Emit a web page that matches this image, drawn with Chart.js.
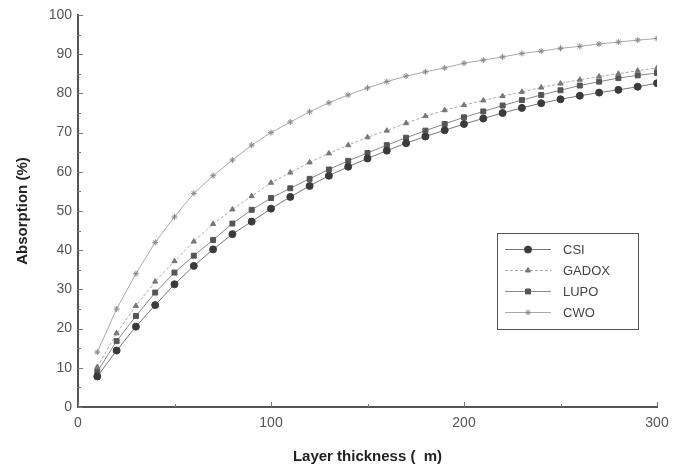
<!DOCTYPE html>
<html>
<head>
<meta charset="utf-8">
<script src="https://cdn.jsdelivr.net/npm/chart.js@4.4.1/dist/chart.umd.min.js"></script>
<style>
  html, body { margin: 0; padding: 0; background: #fff; }
  #wrap { width: 673px; height: 470px; }
</style>
</head>
<body>
<div id="wrap"><canvas id="absorptionChart" width="673" height="470"></canvas></div>
<script>
// layer thickness (x) and absorption (%) per phosphor
const thickness = [10, 20, 30, 40, 50, 60, 70, 80, 90, 100, 110, 120, 130, 140, 150,
  160, 170, 180, 190, 200, 210, 220, 230, 240, 250, 260, 270, 280, 290, 300];
const csi = [7.8, 14.4, 20.5, 26, 31.3, 36, 40.2, 44.1, 47.3, 50.6, 53.6, 56.4, 59, 61.3, 63.4,
  65.4, 67.3, 69, 70.6, 72.2, 73.6, 75, 76.3, 77.5, 78.5, 79.4, 80.2, 80.9, 81.7, 82.6];
const gadox = [10.2, 18.8, 25.8, 32, 37.2, 42.2, 46.7, 50.4, 53.8, 57.2, 59.8, 62.4, 64.7, 66.8, 68.8,
  70.5, 72.4, 74.2, 75.7, 77, 78.2, 79.3, 80.4, 81.5, 82.5, 83.5, 84.3, 85, 85.8, 86.5];
const lupo = [9, 16.8, 23.2, 29.2, 34.3, 38.6, 42.6, 46.8, 50.3, 53.3, 55.8, 58.2, 60.6, 62.8, 64.8,
  66.8, 68.7, 70.5, 72.2, 73.9, 75.4, 76.9, 78.3, 79.6, 80.8, 82, 83, 83.9, 84.6, 85.2];
const cwo = [14, 25, 34, 42, 48.5, 54.5, 59, 63, 66.8, 70, 72.7, 75.3, 77.6, 79.6, 81.4,
  83, 84.4, 85.5, 86.5, 87.7, 88.5, 89.3, 90.2, 90.8, 91.5, 92, 92.6, 93.1, 93.6, 94];
const xTicks = [0, 100, 200, 300];
const yTicks = [0, 10, 20, 30, 40, 50, 60, 70, 80, 90, 100];

const toPoints = ys => thickness.map((x, i) => ({ x: x, y: ys[i] }));

// little inward tick marks, like the original plot
const innerTicks = {
  id: 'innerTicks',
  afterDraw(chart) {
    const ctx = chart.ctx;
    const xs = chart.scales.x, ys = chart.scales.y;
    ctx.save();
    ctx.strokeStyle = '#777';
    ctx.lineWidth = 1;
    for (let v = 0; v <= 100; v += 5) {
      const py = Math.round(ys.getPixelForValue(v)) + 0.5;
      ctx.beginPath();
      ctx.moveTo(xs.left, py);
      ctx.lineTo(xs.left + (v % 10 === 0 ? 5 : 3), py);
      ctx.stroke();
    }
    for (let v = 0; v <= 300; v += 50) {
      const px = Math.round(xs.getPixelForValue(v)) + 0.5;
      ctx.beginPath();
      ctx.moveTo(px, ys.bottom);
      ctx.lineTo(px, ys.bottom - (v % 100 === 0 ? 5 : 3));
      ctx.stroke();
    }
    ctx.restore();
  }
};

// boxed legend inside the plot, lower right
const boxLegend = {
  id: 'boxLegend',
  afterDraw(chart) {
    const ctx = chart.ctx;
    const left = 497, top = 233, w = 141, h = 96;
    ctx.save();
    ctx.fillStyle = '#fff';
    ctx.fillRect(left, top, w, h);
    ctx.strokeStyle = '#555';
    ctx.lineWidth = 1;
    ctx.strokeRect(left + 0.5, top + 0.5, w, h);
    ctx.font = '13px "Liberation Sans", Arial, sans-serif';
    ctx.textBaseline = 'middle';
    chart.data.datasets.forEach((ds, i) => {
      const y = top + 16 + i * 21;
      ctx.strokeStyle = ds.borderColor;
      ctx.lineWidth = 1;
      ctx.setLineDash(ds.borderDash || []);
      ctx.beginPath();
      ctx.moveTo(left + 8, y + 0.5);
      ctx.lineTo(left + 54, y + 0.5);
      ctx.stroke();
      ctx.setLineDash([]);
      ctx.fillStyle = ds.pointBackgroundColor;
      ctx.strokeStyle = ds.pointBorderColor;
      Chart.helpers.drawPoint(ctx, {
        pointStyle: ds.pointStyle, radius: ds.pointRadius, borderWidth: 1, rotation: 0
      }, left + 31, y + 0.5);
      ctx.fillStyle = '#444';
      ctx.fillText(ds.label, left + 66, y + 1);
    });
    ctx.restore();
  }
};

const tickFont = { family: '"Liberation Sans", Arial, sans-serif', size: 14 };
const titleFont = { family: '"Liberation Sans", Arial, sans-serif', size: 15, weight: 'bold' };

const ctxAbs = document.getElementById('absorptionChart').getContext('2d');
const absorptionChart = new Chart(ctxAbs, {
  type: 'line',
  data: {
    datasets: [
      {
        label: 'CSI', data: toPoints(csi),
        borderColor: '#777', borderWidth: 1,
        pointStyle: 'circle', pointRadius: 3.5,
        pointBackgroundColor: '#3a3a3a', pointBorderColor: '#3a3a3a'
      },
      {
        label: 'GADOX', data: toPoints(gadox),
        borderColor: '#aaa', borderWidth: 1, borderDash: [3, 2],
        pointStyle: 'triangle', pointRadius: 3,
        pointBackgroundColor: '#777', pointBorderColor: '#777'
      },
      {
        label: 'LUPO', data: toPoints(lupo),
        borderColor: '#888', borderWidth: 1,
        pointStyle: 'rect', pointRadius: 3.5,
        pointBackgroundColor: '#555', pointBorderColor: '#555'
      },
      {
        label: 'CWO', data: toPoints(cwo),
        borderColor: '#aaa', borderWidth: 1,
        pointStyle: 'star', pointRadius: 3,
        pointBackgroundColor: '#888', pointBorderColor: '#888'
      }
    ]
  },
  options: {
    responsive: false,
    animation: false,
    layout: { padding: { top: 15, right: 16, left: 10, bottom: 0 } },
    plugins: {
      legend: { display: false },
      tooltip: { enabled: false }
    },
    scales: {
      x: {
        type: 'linear', min: 0, max: 300,
        afterFit: s => { s.height = 63; s.paddingRight = 0; s.paddingLeft = 0; },
        afterBuildTicks: s => { s.ticks = xTicks.map(v => ({ value: v })); },
        grid: { display: false, drawTicks: false },
        border: { display: true, color: '#555', width: 2 },
        ticks: { color: '#555', font: tickFont, padding: 8, maxRotation: 0 },
        title: { display: true, text: 'Layer thickness (  m)', color: '#222', font: titleFont, padding: { top: 8 } }
      },
      y: {
        min: 0, max: 100,
        afterFit: s => { s.width = 68; },
        afterBuildTicks: s => { s.ticks = yTicks.map(v => ({ value: v })); },
        grid: { display: false, drawTicks: false },
        border: { display: true, color: '#555', width: 2 },
        ticks: { color: '#555', font: tickFont, padding: 6 },
        title: { display: true, text: 'Absorption (%)', color: '#222', font: titleFont, padding: { bottom: 8 } }
      }
    }
  },
  plugins: [innerTicks, boxLegend]
});
</script>
</body>
</html>
